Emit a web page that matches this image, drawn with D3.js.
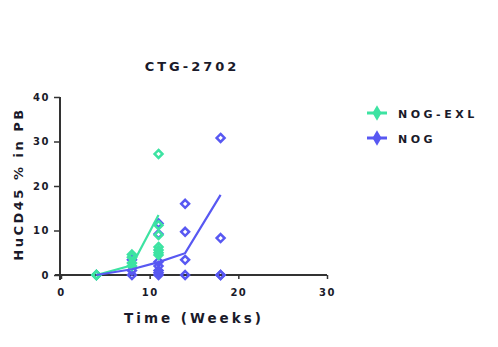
<html>
    <head>
        <title>CTG-2702</title>
        <style>
            body { margin: 0; background: #fff; }
            text { font-family: "DejaVu Sans", Arial, sans-serif; font-weight: bold; }
        </style>
    </head>
    <body>
        <svg></svg>
        <script src="https://d3js.org/d3.v7.min.js"></script>
        <script>
            // series names and colours
            var seriesNames = ["NOG-EXL", "NOG"];
            var seriesColors = ["#3de3a2", "#5858f2"];

            // individual animals, [week, value]
            var exlPoints = [
                [4, 0], [4, 0], [4, 0],
                [8, 2], [8, 2.7], [8, 4], [8, 4.6],
                [11, 27.2], [11, 11.2], [11, 9], [11, 6.3], [11, 5.6], [11, 5], [11, 4.5]
            ];
            var nogPoints = [
                [4, 0],
                [8, 0], [8, 1], [8, 3.4],
                [11, 11.6], [11, 9.2], [11, 3], [11, 2], [11, 1], [11, 0.5], [11, 0],
                [14, 16], [14, 9.7], [14, 3.4], [14, 0],
                [18, 30.8], [18, 8.3], [18, 0], [18, 0]
            ];

            // group means
            var exlMeanWeeks = [4, 8, 11];
            var exlMean = [0, 2.2, 13.5];
            var nogMeanWeeks = [4, 8, 11, 14, 18];
            var nogMean = [0, 1.3, 2.9, 4.9, 18];

            // tick labels
            var xTicks = [0, 10, 20, 30];
            var yTicks = [0, 10, 20, 30, 40];

            var width = 498;
            var height = 347;

            var svg = d3.select("svg")
                .attr("width", width)
                .attr("height", height);

            var x = d3.scaleLinear().domain([0, 30]).range([61, 327]);
            var y = d3.scaleLinear().domain([0, 40]).range([275, 97]);

            var axisColor = "#333";
            var textColor = "#1a1a2a";

            // y axis
            var yAxis = svg.append("g")
                .attr("transform", "translate(60,0)")
                .call(d3.axisLeft(y).tickValues(yTicks).tickSize(6).tickPadding(4));
            yAxis.select(".domain").attr("d", "M0," + y(40) + "V" + (y(0) + 5))
                .attr("stroke", axisColor).attr("stroke-width", 2);
            yAxis.selectAll(".tick line").attr("stroke", axisColor).attr("stroke-width", 1.5);
            yAxis.selectAll(".tick text")
                .style("font-size", "10px")
                .style("letter-spacing", "1.5px")
                .attr("fill", textColor);

            // x axis
            var xAxis = svg.append("g")
                .attr("transform", "translate(0," + y(0) + ")")
                .call(d3.axisBottom(x).tickValues(xTicks).tickSize(4).tickPadding(10));
            xAxis.select(".domain").attr("d", "M" + (x(0) - 6) + ",0H" + x(30))
                .attr("stroke", axisColor).attr("stroke-width", 2);
            xAxis.selectAll(".tick line").attr("stroke", axisColor).attr("stroke-width", 1.5);
            xAxis.selectAll(".tick text")
                .style("font-size", "10px")
                .style("letter-spacing", "1.5px")
                .attr("fill", textColor);

            // diamonds
            var diamond = d3.symbol().type(d3.symbolDiamond2).size(40);

            function drawPoints(data, color) {
                svg.append("g")
                    .selectAll("path")
                    .data(data)
                    .enter()
                    .append("path")
                    .attr("d", diamond)
                    .attr("transform", function(d) { return "translate(" + x(d[0]) + "," + y(d[1]) + ")"; })
                    .attr("fill", "none")
                    .attr("stroke", color)
                    .attr("stroke-width", 2.5);
            }
            drawPoints(nogPoints, seriesColors[1]);
            drawPoints(exlPoints, seriesColors[0]);

            // mean lines
            var line = d3.line()
                .x(function(d) { return x(d[0]); })
                .y(function(d) { return y(d[1]); });

            svg.append("path")
                .datum(d3.zip(exlMeanWeeks, exlMean))
                .attr("d", line)
                .attr("fill", "none")
                .attr("stroke", seriesColors[0])
                .attr("stroke-width", 2.2);
            svg.append("path")
                .datum(d3.zip(nogMeanWeeks, nogMean))
                .attr("d", line)
                .attr("fill", "none")
                .attr("stroke", seriesColors[1])
                .attr("stroke-width", 2.2);

            // title
            svg.append("text")
                .attr("x", 192)
                .attr("y", 71)
                .attr("text-anchor", "middle")
                .style("font-size", "13px")
                .style("letter-spacing", "3px")
                .attr("fill", textColor)
                .text("CTG-2702");

            // axis titles
            svg.append("text")
                .attr("transform", "translate(23,184) rotate(-90)")
                .attr("text-anchor", "middle")
                .style("font-size", "13px")
                .style("letter-spacing", "2.5px")
                .attr("fill", textColor)
                .text("HuCD45 % in PB");

            svg.append("text")
                .attr("x", 194)
                .attr("y", 323)
                .attr("text-anchor", "middle")
                .style("font-size", "13.5px")
                .style("letter-spacing", "3px")
                .attr("fill", textColor)
                .text("Time (Weeks)");

            // legend
            var legend = svg.append("g")
                .selectAll("g")
                .data(seriesNames)
                .enter()
                .append("g")
                .attr("transform", function(d, i) { return "translate(377," + (113 + i * 25) + ")"; });

            legend.append("line")
                .attr("x1", -10).attr("x2", 10)
                .attr("stroke", function(d, i) { return seriesColors[i]; })
                .attr("stroke-width", 3);
            legend.append("path")
                .attr("d", d3.symbol().type(d3.symbolDiamond).size(70))
                .attr("fill", function(d, i) { return seriesColors[i]; });
            legend.append("text")
                .attr("x", 21)
                .attr("y", 4.5)
                .style("font-size", "11px")
                .style("letter-spacing", "3.5px")
                .attr("fill", textColor)
                .text(function(d) { return d; });
        </script>
    </body>
</html>
